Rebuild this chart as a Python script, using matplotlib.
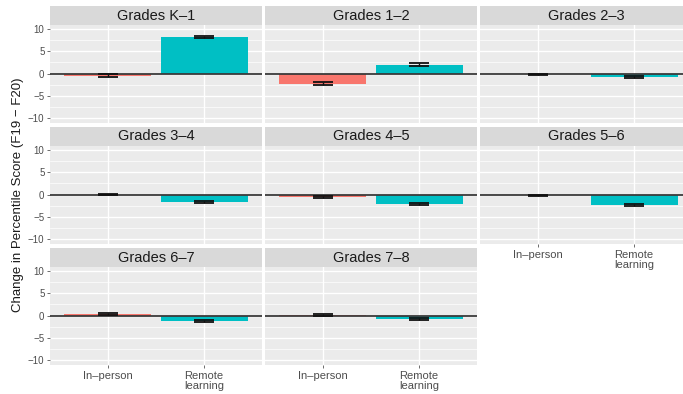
import matplotlib.pyplot as plt
import numpy as np

plt.rcParams["font.family"] = ["Liberation Sans", "DejaVu Sans"]

grades = ["Grades K–1", "Grades 1–2", "Grades 2–3", "Grades 3–4",
          "Grades 4–5", "Grades 5–6", "Grades 6–7", "Grades 7–8"]
modes = ["In–person", "Remote\nlearning"]
in_person = [-0.5, -2.3, -0.2, 0.0, -0.6, -0.2, 0.3, 0.1]
in_person_se = [0.3, 0.3, 0.2, 0.2, 0.2, 0.2, 0.2, 0.2]
remote = [8.2, 2.0, -0.8, -1.6, -2.2, -2.3, -1.2, -0.8]
remote_se = [0.3, 0.3, 0.2, 0.2, 0.2, 0.2, 0.2, 0.2]

colors = ["#F8766D", "#00BFC4"]
W, H = 683, 394


def box(x0, y0, x1, y1):
    return [x0 / W, 1 - y1 / H, (x1 - x0) / W, (y1 - y0) / H]


fig = plt.figure(figsize=(W / 100, H / 100), dpi=100)

col_x = [50, 265, 480]
panel_w = 212
row_top = [6, 127, 248]
strip_h = 19
panel_h = 98

for i, grade in enumerate(grades):
    r, c = divmod(i, 3)
    x0 = col_x[c]
    y0 = row_top[r]

    sax = fig.add_axes(box(x0, y0, x0 + panel_w, y0 + strip_h))
    sax.set_facecolor("#D9D9D9")
    sax.set_xticks([])
    sax.set_yticks([])
    for s in sax.spines.values():
        s.set_visible(False)
    sax.text(0.5, 0.5, grade, ha="center", va="center", fontsize=10.5,
             color="#1A1A1A", transform=sax.transAxes)

    ax = fig.add_axes(box(x0, y0 + strip_h, x0 + panel_w, y0 + strip_h + panel_h))
    ax.set_facecolor("#EBEBEB")
    for s in ax.spines.values():
        s.set_visible(False)
    ax.set_xlim(0.4, 2.6)
    ax.set_ylim(-11.1, 10.9)
    ax.set_yticks([-10, -5, 0, 5, 10])
    ax.set_yticks([-7.5, -2.5, 2.5, 7.5], minor=True)
    ax.set_xticks([1, 2])
    ax.grid(True, which="major", color="white", linewidth=1.0)
    ax.grid(True, which="minor", axis="y", color="white", linewidth=0.5)
    ax.set_axisbelow(True)

    vals = [in_person[i], remote[i]]
    errs = [in_person_se[i], remote_se[i]]
    ax.bar([1, 2], vals, width=0.9, color=colors, zorder=2)
    ax.axhline(0, color="#3A3A3A", linewidth=1.3, zorder=3)
    ax.errorbar([1, 2], vals, yerr=errs, fmt="none", ecolor="#111111",
                elinewidth=1.0, capsize=7, capthick=1.3, zorder=4)

    ax.tick_params(axis="both", which="both", length=0)
    ax.tick_params(axis="y", which="major", length=2.5, width=0.5, color="#333333",
                   labelsize=7, labelcolor="#4D4D4D", pad=1.5)
    ax.tick_params(axis="x", which="major", length=2.5, width=0.5, color="#333333",
                   labelsize=8, labelcolor="#4D4D4D", pad=2)

    if c == 0:
        ax.set_yticklabels(["−10", "−5", "0", "5", "10"])
    else:
        ax.tick_params(axis="y", which="major", length=0, labelleft=False)

    if r == 2 or (r == 1 and c == 2):
        ax.set_xticklabels(modes, linespacing=1.0)
    else:
        ax.tick_params(axis="x", which="major", length=0, labelbottom=False)

fig.text(18 / W, 1 - 195 / H, "Change in Percentile Score (F19 − F20)",
         rotation=90, ha="center", va="center", fontsize=9.5, color="#1A1A1A")

fig.savefig("out.png", dpi=100)
